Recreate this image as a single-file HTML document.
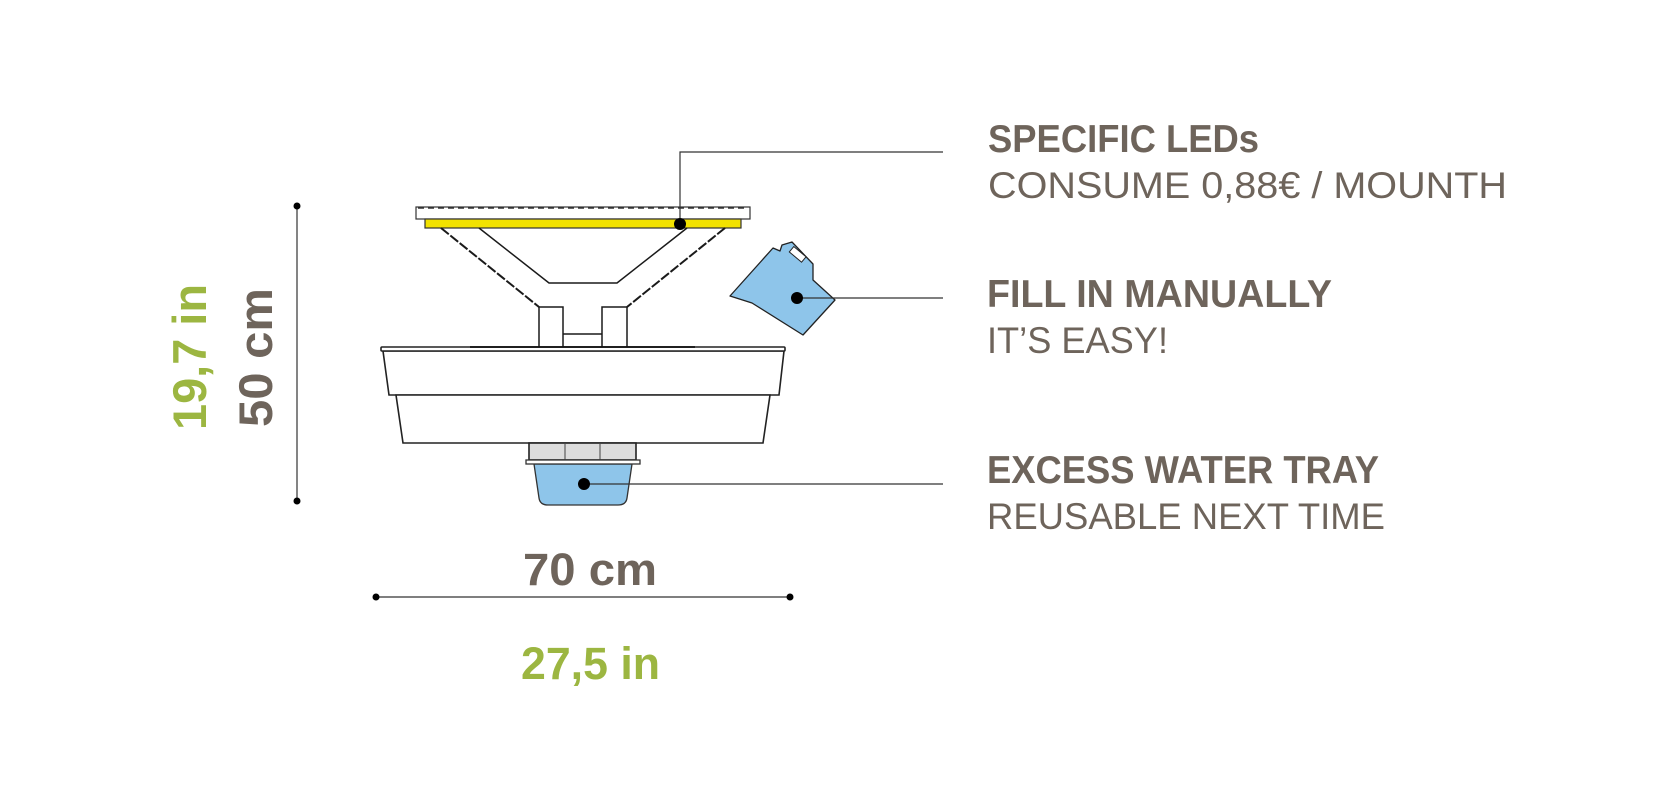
<!DOCTYPE html>
<html><head><meta charset="utf-8"><style>
html,body{margin:0;padding:0;background:#fff;}
svg{display:block;}
text{font-family:"Liberation Sans",sans-serif;}
</style></head><body>
<svg width="1676" height="785" viewBox="0 0 1676 785" xmlns="http://www.w3.org/2000/svg">
<rect width="1676" height="785" fill="#fff"/>
<!-- lid -->
<rect x="416" y="207" width="334" height="12" fill="#fff" stroke="#333" stroke-width="1.2"/>
<line x1="418" y1="208" x2="748" y2="208" stroke="#333" stroke-width="1.5" stroke-dasharray="6,4"/>
<rect x="425" y="219" width="316" height="9" fill="#f2e200" stroke="#333" stroke-width="1.2"/>
<!-- funnel -->
<g fill="none" stroke="#1a1a1a" stroke-width="1.5">
<line x1="441" y1="228" x2="539" y2="307" stroke-width="2" stroke-dasharray="10,2"/>
<polyline points="479,228 549,283 617,283 687,228"/>
<line x1="725" y1="228" x2="627" y2="307" stroke-width="2" stroke-dasharray="10,2"/>
<rect x="539" y="307" width="24" height="41"/>
<rect x="602" y="307" width="25" height="41"/>
<line x1="563" y1="334" x2="602" y2="334"/>
</g>
<!-- pot -->
<g fill="#fff" stroke="#222" stroke-width="1.6">
<polygon points="383,351 784,351 779,395 389,395"/>
<polygon points="396,395 770,395 763,443 403,443"/>
<rect x="381" y="347" width="404" height="4" rx="1"/>
</g>
<line x1="470" y1="347" x2="695" y2="347" stroke="#111" stroke-width="1.8"/>
<!-- lower tray -->
<rect x="529" y="443" width="107" height="17" fill="#ddd" stroke="#222" stroke-width="1.6"/>
<line x1="565" y1="443" x2="565" y2="460" stroke="#444"/>
<line x1="600" y1="443" x2="600" y2="460" stroke="#444"/>
<path d="M534,464 L632,464 L627,498 Q626,505 618,505 L548,505 Q540,505 539,498 Z" fill="#8ec5ea" stroke="#333" stroke-width="1.3"/>
<rect x="526" y="460" width="114" height="4" fill="#fff" stroke="#333" stroke-width="1.3"/>
<!-- watering can -->
<polygon points="730,296 773,248 780,251 782,245 792,242 813,264 813,280 835,300 803,335 752,303" fill="#8ec5ea" stroke="#222" stroke-width="1.3" stroke-linejoin="round"/>
<rect x="790" y="251" width="16" height="7" transform="rotate(40 798 254)" fill="#fff" stroke="#222" stroke-width="1"/>
<!-- leaders -->
<g stroke="#333" stroke-width="1.2" fill="none">
<polyline points="680,224 680,152 943,152"/>
<line x1="797" y1="298" x2="943" y2="298"/>
<line x1="584" y1="484" x2="943" y2="484"/>
<line x1="297" y1="206" x2="297" y2="501"/>
<line x1="376" y1="597" x2="790" y2="597"/>
</g>
<g fill="#000">
<circle cx="680" cy="224" r="6"/>
<circle cx="797" cy="298" r="6"/>
<circle cx="584" cy="484" r="6"/>
<circle cx="297" cy="206" r="3.5"/>
<circle cx="297" cy="501" r="3.5"/>
<circle cx="376" cy="597" r="3.5"/>
<circle cx="790" cy="597" r="3.5"/>
</g>
<!-- labels -->
<g fill="#6e645b">
<text x="988" y="152" font-size="39" font-weight="bold" textLength="271" lengthAdjust="spacingAndGlyphs">SPECIFIC LEDs</text>
<text x="988" y="198" font-size="37" textLength="519" lengthAdjust="spacingAndGlyphs">CONSUME 0,88€ / MOUNTH</text>
<text x="987" y="307" font-size="39" font-weight="bold" textLength="345" lengthAdjust="spacingAndGlyphs">FILL IN MANUALLY</text>
<text x="987" y="353" font-size="37" textLength="181" lengthAdjust="spacingAndGlyphs">IT’S EASY!</text>
<text x="987" y="483" font-size="39" font-weight="bold" textLength="392" lengthAdjust="spacingAndGlyphs">EXCESS WATER TRAY</text>
<text x="987" y="529" font-size="37" textLength="398" lengthAdjust="spacingAndGlyphs">REUSABLE NEXT TIME</text>
<text x="523" y="585" font-size="45" font-weight="bold" textLength="134" lengthAdjust="spacingAndGlyphs">70 cm</text>
<text transform="translate(272,427) rotate(-90)" font-size="47" font-weight="bold" textLength="139" lengthAdjust="spacingAndGlyphs">50 cm</text>
</g>
<g fill="#9cb641">
<text x="521" y="679" font-size="45" font-weight="bold" textLength="139" lengthAdjust="spacingAndGlyphs">27,5 in</text>
<text transform="translate(206,430) rotate(-90)" font-size="47" font-weight="bold" textLength="146" lengthAdjust="spacingAndGlyphs">19,7 in</text>
</g>
</svg>
</body></html>
